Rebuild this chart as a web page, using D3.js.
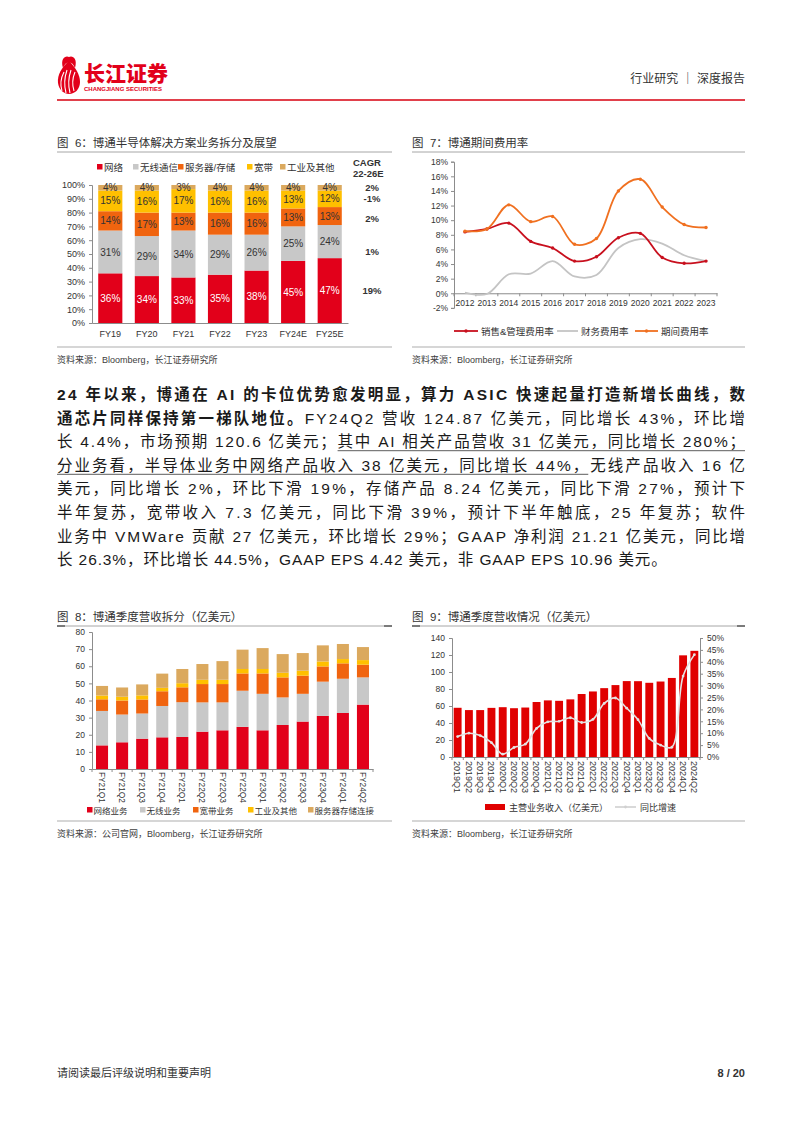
<!DOCTYPE html>
<html><head><meta charset="utf-8">
<script src="https://cdn.jsdelivr.net/npm/d3@7"></script>
<style>
body{margin:0;background:#fff}
svg{display:block}
text{font-family:"Liberation Sans","Noto Sans CJK SC",sans-serif}
</style>
</head><body>
<svg id="page" width="802" height="1133"></svg>
<script>
// ---------------- DATA ----------------
const fig6Cats = ["FY19","FY20","FY21","FY22","FY23","FY24E","FY25E"];
const fig6Series = ["网络","无线通信","服务器/存储","宽带","工业及其他"];
const fig6Network = [36,34,33,35,38,45,47];
const fig6Wireless = [31,29,34,29,26,25,24];
const fig6Server = [14,17,13,16,16,13,13];
const fig6Broadband = [15,16,17,16,16,13,12];
const fig6Industrial = [4,4,3,4,4,4,4];
const fig6CagrLabels = ["19%","1%","2%","-1%","2%"];
const fig6CagrAt = [23.5,52,75.5,90,98];
const fig6YTicks = [0,10,20,30,40,50,60,70,80,90,100];

const fig7Years = ["2012","2013","2014","2015","2016","2017","2018","2019","2020","2021","2022","2023"];
const fig7Sga = [8.4,8.8,9.6,7.1,6.2,4.4,5.0,7.6,8.2,4.9,4.1,4.4];
const fig7Fin = [0.1,-0.1,2.6,2.7,4.4,2.3,2.5,6.2,7.4,6.8,5.2,4.4];
const fig7Total = [8.5,8.8,12.1,9.8,10.5,6.7,7.5,14.0,15.6,11.8,9.4,9.0];
const fig7Series = ["销售&管理费用率","财务费用率","期间费用率"];
const fig7YTicks = [-2,0,2,4,6,8,10,12,14,16,18];

const fig8Quarters = ["FY21Q1","FY21Q2","FY21Q3","FY21Q4","FY22Q1","FY22Q2","FY22Q3","FY22Q4","FY23Q1","FY23Q2","FY23Q3","FY23Q4","FY24Q1","FY24Q2"];
const fig8Series = ["网络业务","无线业务","宽带业务","工业及其他","服务器存储连接"];
const fig8Network = [13.8,15.6,17.7,18.5,18.7,21.8,22.6,24.6,22.6,25.7,27.7,31.0,32.7,37.6];
const fig8Wireless = [20.1,16.2,14.7,18.3,20.3,17.1,16.3,21.1,21.3,16.1,16.2,20.0,20.0,15.9];
const fig8Broadband = [6.8,8.2,8.2,8.6,8.7,10.7,10.7,10.1,11.9,11.7,10.6,8.9,9.0,7.4];
const fig8Industrial = [2.2,2.2,2.4,2.0,2.4,2.5,2.5,2.6,2.6,2.7,2.9,2.9,2.5,2.7];
const fig8Server = [5.6,5.4,6.4,8.3,8.3,9.2,10.9,11.3,12.2,10.9,10.3,9.4,8.8,7.6];
const fig8YTicks = [0,10,20,30,40,50,60,70,80];

const fig9Quarters = ["2019Q1","2019Q2","2019Q3","2019Q4","2020Q1","2020Q2","2020Q3","2020Q4","2021Q1","2021Q2","2021Q3","2021Q4","2022Q1","2022Q2","2022Q3","2022Q4","2023Q1","2023Q2","2023Q3","2023Q4","2024Q1","2024Q2"];
const fig9Revenue = [57.9,55.2,55.2,57.8,58.6,57.4,58.2,64.7,66.6,66.1,67.8,74.1,77.1,81.0,84.6,89.3,89.2,87.3,88.8,93.0,119.6,124.9];
const fig9Yoy = [8.6,10.0,9.0,6.0,1.2,4.0,5.4,12.0,14.8,15.0,16.5,14.5,15.8,22.5,24.8,20.5,15.7,7.8,5.0,4.1,34.0,43.0];
const fig9Series = ["主营业务收入（亿美元）","同比增速"];
const fig9LeftTicks = [0,20,40,60,80,100,120,140];
const fig9RightTicks = [0,5,10,15,20,25,30,35,40,45,50];

// ---------------- SETUP ----------------
const svg = d3.select("#page");
const RED = "#E2001A", GRAY = "#C8C8C8", ORANGE = "#F0640F", YELLOW = "#FFC000", TAN = "#DBA95E";
const TXT = "#333";

function txt(x,y,s,size,opts={}){
  const t = svg.append("text").attr("x",x).attr("y",y).attr("font-size",size)
    .attr("fill",opts.fill||TXT).attr("font-weight",opts.bold?700:400)
    .attr("text-anchor",opts.anchor||"start").text(s);
  if(opts.ls!==undefined) t.attr("letter-spacing",opts.ls);
  return t;
}
function hline(x1,x2,y,color,w){
  svg.append("line").attr("x1",x1).attr("x2",x2).attr("y1",y).attr("y2",y).attr("stroke",color).attr("stroke-width",w);
}
function styleAxis(g,size){
  g.attr("font-size",null).attr("font-family",null);
  g.selectAll("path,line").attr("stroke","#8c8c8c");
  g.selectAll("text").attr("fill",TXT).attr("font-size",size);
}
function measure(s,size,weight){
  const t = svg.append("text").attr("font-size",size).attr("font-weight",weight).text(s);
  const w = t.node().getComputedTextLength(); t.remove(); return w;
}

// ---------------- HEADER ----------------
const logo = svg.append("g");
logo.append("path").attr("d","M69,61 C62,67 57,75 58,83 C59,90 64,94 69,94 C75,94 80,89 80,82 C80,74 75,67 69,61 Z").attr("fill",RED);
logo.append("path").attr("d","M63,68 C60,58 66,55 69,57 C72,55 78,58 75,68 C73,63 71,62 69,63 C67,62 65,63 63,68 Z").attr("fill",RED);
[[62,91,64,72],[66,93,67,70],[70,93,71,70],[74,91,75,72]].forEach(d=>{
  logo.append("path").attr("d",`M${d[0]},${d[1]} Q${d[0]-3},${(d[1]+d[3])/2} ${d[2]},${d[3]}`).attr("stroke","#fff").attr("stroke-width",1.1).attr("fill","none");
});
txt(84,81,"长江证券",21,{fill:RED,bold:true}).style("font-family",'"Noto Sans CJK SC",sans-serif').attr("font-weight",900);
txt(84,91,"CHANGJIANG SECURITIES",6.2,{fill:RED,bold:true}).attr("textLength",78).attr("lengthAdjust","spacingAndGlyphs");
txt(745,83,"行业研究 ｜ 深度报告",12,{anchor:"end",fill:"#333"});
hline(57,745,100,"#D7000F",1.6);

// ---------------- FIGURE 6 ----------------
txt(57,147,"图\u00a0\u00a06：博通半导体解决方案业务拆分及展望",11.5);
hline(57,392,152,"#A6A6A6",1);
const x6 = d3.scaleBand().domain(fig6Cats).range([92,348]).paddingInner(0.34).paddingOuter(0.17);
const y6 = d3.scaleLinear().domain([0,100]).range([323,185]);
const fig6Rows = fig6Cats.map((c,i)=>({cat:c,"网络":fig6Network[i],"无线通信":fig6Wireless[i],"服务器/存储":fig6Server[i],"宽带":fig6Broadband[i],"工业及其他":fig6Industrial[i]}));
const fig6Colors = d3.scaleOrdinal().domain(fig6Series).range([RED,GRAY,ORANGE,YELLOW,TAN]);
const st6 = d3.stack().keys(fig6Series)(fig6Rows);
const g6 = svg.append("g");
st6.forEach(layer=>{
  g6.selectAll(null).data(layer).join("rect")
    .attr("x",d=>x6(d.data.cat)).attr("width",x6.bandwidth())
    .attr("y",d=>y6(d[1])).attr("height",d=>y6(d[0])-y6(d[1]))
    .attr("fill",fig6Colors(layer.key));
  g6.selectAll(null).data(layer).join("text")
    .attr("x",d=>x6(d.data.cat)+x6.bandwidth()/2).attr("y",d=>y6((d[0]+d[1])/2)).attr("dy","0.36em")
    .attr("text-anchor","middle").attr("font-size",10)
    .attr("fill",layer.key==="网络"?"#fff":TXT)
    .text(d=>d.data[layer.key]+"%");
});
const ax6 = svg.append("g").attr("transform","translate(92,0)")
  .call(d3.axisLeft(y6).tickValues(fig6YTicks).tickFormat(d=>d+"%").tickSize(3).tickPadding(4));
styleAxis(ax6,9);
const bx6 = svg.append("g").attr("transform","translate(0,323)")
  .call(d3.axisBottom(x6).tickSize(0).tickPadding(8));
styleAxis(bx6,9);
const leg6x = [97,133,178,247,280];
fig6Series.forEach((s,i)=>{
  svg.append("rect").attr("x",leg6x[i]).attr("y",164).attr("width",5.5).attr("height",5.5).attr("fill",fig6Colors(s));
  txt(leg6x[i]+7,170.5,s,9.5);
});
txt(353,166,"CAGR",9.5,{bold:true});
txt(353,177,"22-26E",9.5,{bold:true});
fig6CagrLabels.forEach((s,i)=>{
  txt(372,y6(fig6CagrAt[i]),s,9.5,{bold:true,anchor:"middle"}).attr("dy","0.36em");
});
hline(57,392,347,"#C8C8C8",1.5);
txt(57,363,"资料来源：Bloomberg，长江证券研究所",9,{fill:"#404040"});

// ---------------- FIGURE 7 ----------------
txt(412,147,"图\u00a0\u00a07：博通期间费用率",11.5);
hline(412,745,152,"#A6A6A6",1);
const x7 = d3.scaleBand().domain(fig7Years).range([454,717]);
const y7 = d3.scaleLinear().domain([-2,18]).range([307.9,161.7]);
const ay7 = svg.append("g").attr("transform","translate(454,0)")
  .call(d3.axisLeft(y7).tickValues(fig7YTicks).tickFormat(d=>d+"%").tickSize(3).tickPadding(3));
styleAxis(ay7,8.5);
const ax7 = svg.append("g").attr("transform",`translate(0,${y7(0)})`)
  .call(d3.axisBottom(x7).tickSize(0).tickPadding(0).tickFormat(()=>""));
styleAxis(ax7,8.5);
ax7.selectAll(".tick").remove();
ax7.selectAll(null).data(d3.range(fig7Years.length+1)).join("line")
  .attr("x1",i=>454+i*x7.step()).attr("x2",i=>454+i*x7.step()).attr("y1",0).attr("y2",3).attr("stroke","#8c8c8c");
svg.append("g").selectAll("text").data(fig7Years).join("text")
  .attr("x",d=>x7(d)+x7.bandwidth()/2).attr("y",y7(0)+12.5).attr("text-anchor","middle")
  .attr("font-size",8.5).attr("fill",TXT).text(d=>d);
const line7 = d3.line().x((d,i)=>x7(fig7Years[i])+x7.bandwidth()/2).y(d=>y7(d)).curve(d3.curveCatmullRom.alpha(0.5));
const fig7Colors = ["#C8101E","#C4C4C4","#F07020"];
[fig7Fin,fig7Sga,fig7Total].forEach((arr,k)=>{
  const ci = [1,0,2][k];
  svg.append("path").attr("d",line7(arr)).attr("fill","none").attr("stroke",fig7Colors[ci]).attr("stroke-width",1.8);
  if(ci!==1){
    svg.append("g").selectAll("circle").data(arr).join("circle")
      .attr("cx",(d,i)=>x7(fig7Years[i])+x7.bandwidth()/2).attr("cy",d=>y7(d)).attr("r",1.7).attr("fill",fig7Colors[ci]);
  }
});
const leg7 = [[454,478,481],[557,578,581],[635,658,661]];
fig7Series.forEach((s,i)=>{
  const [a,b,t] = leg7[i];
  hline(a,b,331,fig7Colors[i],1.8);
  if(i!==1) svg.append("circle").attr("cx",(a+b)/2).attr("cy",331).attr("r",1.7).attr("fill",fig7Colors[i]);
  txt(t,334.5,s,9.5);
});
hline(412,745,347,"#C8C8C8",1.5);
txt(412,363,"资料来源：Bloomberg，长江证券研究所",9,{fill:"#404040"});

// ---------------- PARAGRAPH ----------------
const paraLines = [
  [{t:"24 年以来，博通在 AI 的卡位优势愈发明显，算力 ASIC 快速起量打造新增长曲线，数",b:1}],
  [{t:"通芯片同样保持第一梯队地位。",b:1},{t:"FY24Q2 营收 124.87 亿美元，同比增长 43%，环比增"}],
  [{t:"长 4.4%，市场预期 120.6 亿美元；"},{t:"其中 AI 相关产品营收 31 亿美元，同比增长 280%；",u:1}],
  [{t:"分业务看，半导体业务中网络产品收入 38 亿美元，同比增长 44%，",u:1},{t:"无线产品收入 16 亿"}],
  [{t:"美元，同比增长 2%，环比下滑 19%，存储产品 8.24 亿美元，同比下滑 27%，预计下"}],
  [{t:"半年复苏，宽带收入 7.3 亿美元，同比下滑 39%，预计下半年触底，25 年复苏；软件"}],
  [{t:"业务中 VMWare 贡献 27 亿美元，环比增长 29%；GAAP 净利润 21.21 亿美元，同比增"}],
  [{t:"长 26.3%，环比增长 44.5%，GAAP EPS 4.42 美元，非 GAAP EPS 10.96 美元。"}]
];
const PX0 = 57, PX1 = 745, PSIZE = 15.5, PY0 = 400, PDY = 23.6;
paraLines.forEach((segs,i)=>{
  const y = PY0 + i*PDY;
  const widths = segs.map(s=>measure(s.t,PSIZE,s.b?700:400));
  const nChars = d3.sum(segs,s=>[...s.t].length);
  const total = d3.sum(widths);
  const ls = i < paraLines.length-1 ? (PX1-PX0-total)/(nChars-1) : 0.9;
  let x = PX0;
  segs.forEach((s,j)=>{
    const n = [...s.t].length;
    txt(x,y,s.t,PSIZE,{bold:!!s.b,fill:"#1a1a1a",ls:ls});
    const w = widths[j] + ls*n;
    if(s.u) hline(x,x+w-ls,y+3.5,"#333",0.8);
    x += w;
  });
});

// ---------------- FIGURE 8 ----------------
txt(57,621,"图\u00a0\u00a08：博通季度营收拆分（亿美元）",11.5);
hline(57,392,626,"#A6A6A6",1);
hline(57,65,626,"#555",1.4); hline(384,392,626,"#555",1.4);
const x8 = d3.scaleBand().domain(fig8Quarters).range([92,373]).paddingInner(0.4).paddingOuter(0.2);
const y8 = d3.scaleLinear().domain([0,80]).range([769,632]);
const fig8Rows = fig8Quarters.map((q,i)=>({q,"网络业务":fig8Network[i],"无线业务":fig8Wireless[i],"宽带业务":fig8Broadband[i],"工业及其他":fig8Industrial[i],"服务器存储连接":fig8Server[i]}));
const fig8Colors = d3.scaleOrdinal().domain(fig8Series).range([RED,GRAY,ORANGE,YELLOW,TAN]);
const st8 = d3.stack().keys(fig8Series)(fig8Rows);
st8.forEach(layer=>{
  svg.append("g").selectAll("rect").data(layer).join("rect")
    .attr("x",d=>x8(d.data.q)).attr("width",x8.bandwidth())
    .attr("y",d=>y8(d[1])).attr("height",d=>y8(d[0])-y8(d[1]))
    .attr("fill",fig8Colors(layer.key));
});
const ay8 = svg.append("g").attr("transform","translate(92,0)")
  .call(d3.axisLeft(y8).tickValues(fig8YTicks).tickSize(3).tickPadding(4));
styleAxis(ay8,8.5);
const ax8 = svg.append("g").attr("transform","translate(0,769)").call(d3.axisBottom(x8).tickSize(0).tickFormat(()=>""));
styleAxis(ax8,8);
ax8.selectAll(".tick").remove();
ax8.selectAll(null).data(d3.range(fig8Quarters.length+1)).join("line")
  .attr("x1",i=>92+i*x8.step()).attr("x2",i=>92+i*x8.step()).attr("y1",0).attr("y2",3).attr("stroke","#8c8c8c");
svg.append("g").selectAll("text").data(fig8Quarters).join("text")
  .attr("transform",d=>`translate(${x8(d)+x8.bandwidth()/2},772) rotate(90)`)
  .attr("dy","0.35em").attr("font-size",8.3).attr("fill",TXT).text(d=>d);
const leg8x = [87,140,193,248,308];
fig8Series.forEach((s,i)=>{
  svg.append("rect").attr("x",leg8x[i]).attr("y",807).attr("width",5.5).attr("height",5.5).attr("fill",fig8Colors(s));
  txt(leg8x[i]+6.5,813.5,s,8.5);
});
hline(57,392,821,"#C8C8C8",1.5);
txt(57,837,"资料来源：公司官网，Bloomberg，长江证券研究所",9,{fill:"#404040"});

// ---------------- FIGURE 9 ----------------
txt(412,621,"图\u00a0\u00a09：博通季度营收情况（亿美元）",11.5);
hline(412,745,626,"#A6A6A6",1);
hline(412,420,626,"#555",1.4); hline(737,745,626,"#555",1.4);
const x9 = d3.scaleBand().domain(fig9Quarters).range([452,700]).paddingInner(0.3).paddingOuter(0.15);
const yL = d3.scaleLinear().domain([0,140]).range([757,638]);
const yR = d3.scaleLinear().domain([0,50]).range([757,638]);
svg.append("g").selectAll("rect").data(fig9Revenue).join("rect")
  .attr("x",(d,i)=>x9(fig9Quarters[i])).attr("width",x9.bandwidth())
  .attr("y",d=>yL(d)).attr("height",d=>yL(0)-yL(d)).attr("fill","#E00000");
const ayL = svg.append("g").attr("transform","translate(452,0)")
  .call(d3.axisLeft(yL).tickValues(fig9LeftTicks).tickSize(3).tickPadding(4));
styleAxis(ayL,8.5);
const ayR = svg.append("g").attr("transform","translate(700,0)")
  .call(d3.axisRight(yR).tickValues(fig9RightTicks).tickFormat(d=>d+"%").tickSize(3).tickPadding(4));
styleAxis(ayR,8.5);
const ax9 = svg.append("g").attr("transform","translate(0,757)").call(d3.axisBottom(x9).tickSize(0).tickFormat(()=>""));
styleAxis(ax9,8);
ax9.selectAll(".tick").remove();
ax9.selectAll(null).data(d3.range(fig9Quarters.length+1)).join("line")
  .attr("x1",i=>452+i*x9.step()).attr("x2",i=>452+i*x9.step()).attr("y1",0).attr("y2",3).attr("stroke","#8c8c8c");
svg.append("g").selectAll("text").data(fig9Quarters).join("text")
  .attr("transform",d=>`translate(${x9(d)+x9.bandwidth()/2},761) rotate(90)`)
  .attr("dy","0.35em").attr("font-size",9).attr("fill",TXT).text(d=>d);
const line9 = d3.line().x((d,i)=>x9(fig9Quarters[i])+x9.bandwidth()/2).y(d=>yR(d)).curve(d3.curveCatmullRom.alpha(0.5));
svg.append("path").attr("d",line9(fig9Yoy)).attr("fill","none").attr("stroke","#E3E3E3").attr("stroke-width",1.6);
svg.append("g").selectAll("circle").data(fig9Yoy).join("circle")
  .attr("cx",(d,i)=>x9(fig9Quarters[i])+x9.bandwidth()/2).attr("cy",d=>yR(d)).attr("r",1.4).attr("fill","#E3E3E3");
svg.append("rect").attr("x",485).attr("y",804).attr("width",20).attr("height",6).attr("fill","#E00000");
txt(509,810.5,fig9Series[0],9);
hline(615,636,807,"#D0D0D0",1.6);
svg.append("circle").attr("cx",625.5).attr("cy",807).attr("r",1.4).attr("fill","#D0D0D0");
txt(640,810.5,fig9Series[1],9);
hline(412,745,821,"#C8C8C8",1.5);
txt(412,837,"资料来源：Bloomberg，长江证券研究所",9,{fill:"#404040"});

// ---------------- FOOTER ----------------
txt(57,1077,"请阅读最后评级说明和重要声明",11,{fill:"#333"});
txt(745,1077,"8 / 20",11,{anchor:"end",bold:true,fill:"#333"});
</script>
</body></html>
